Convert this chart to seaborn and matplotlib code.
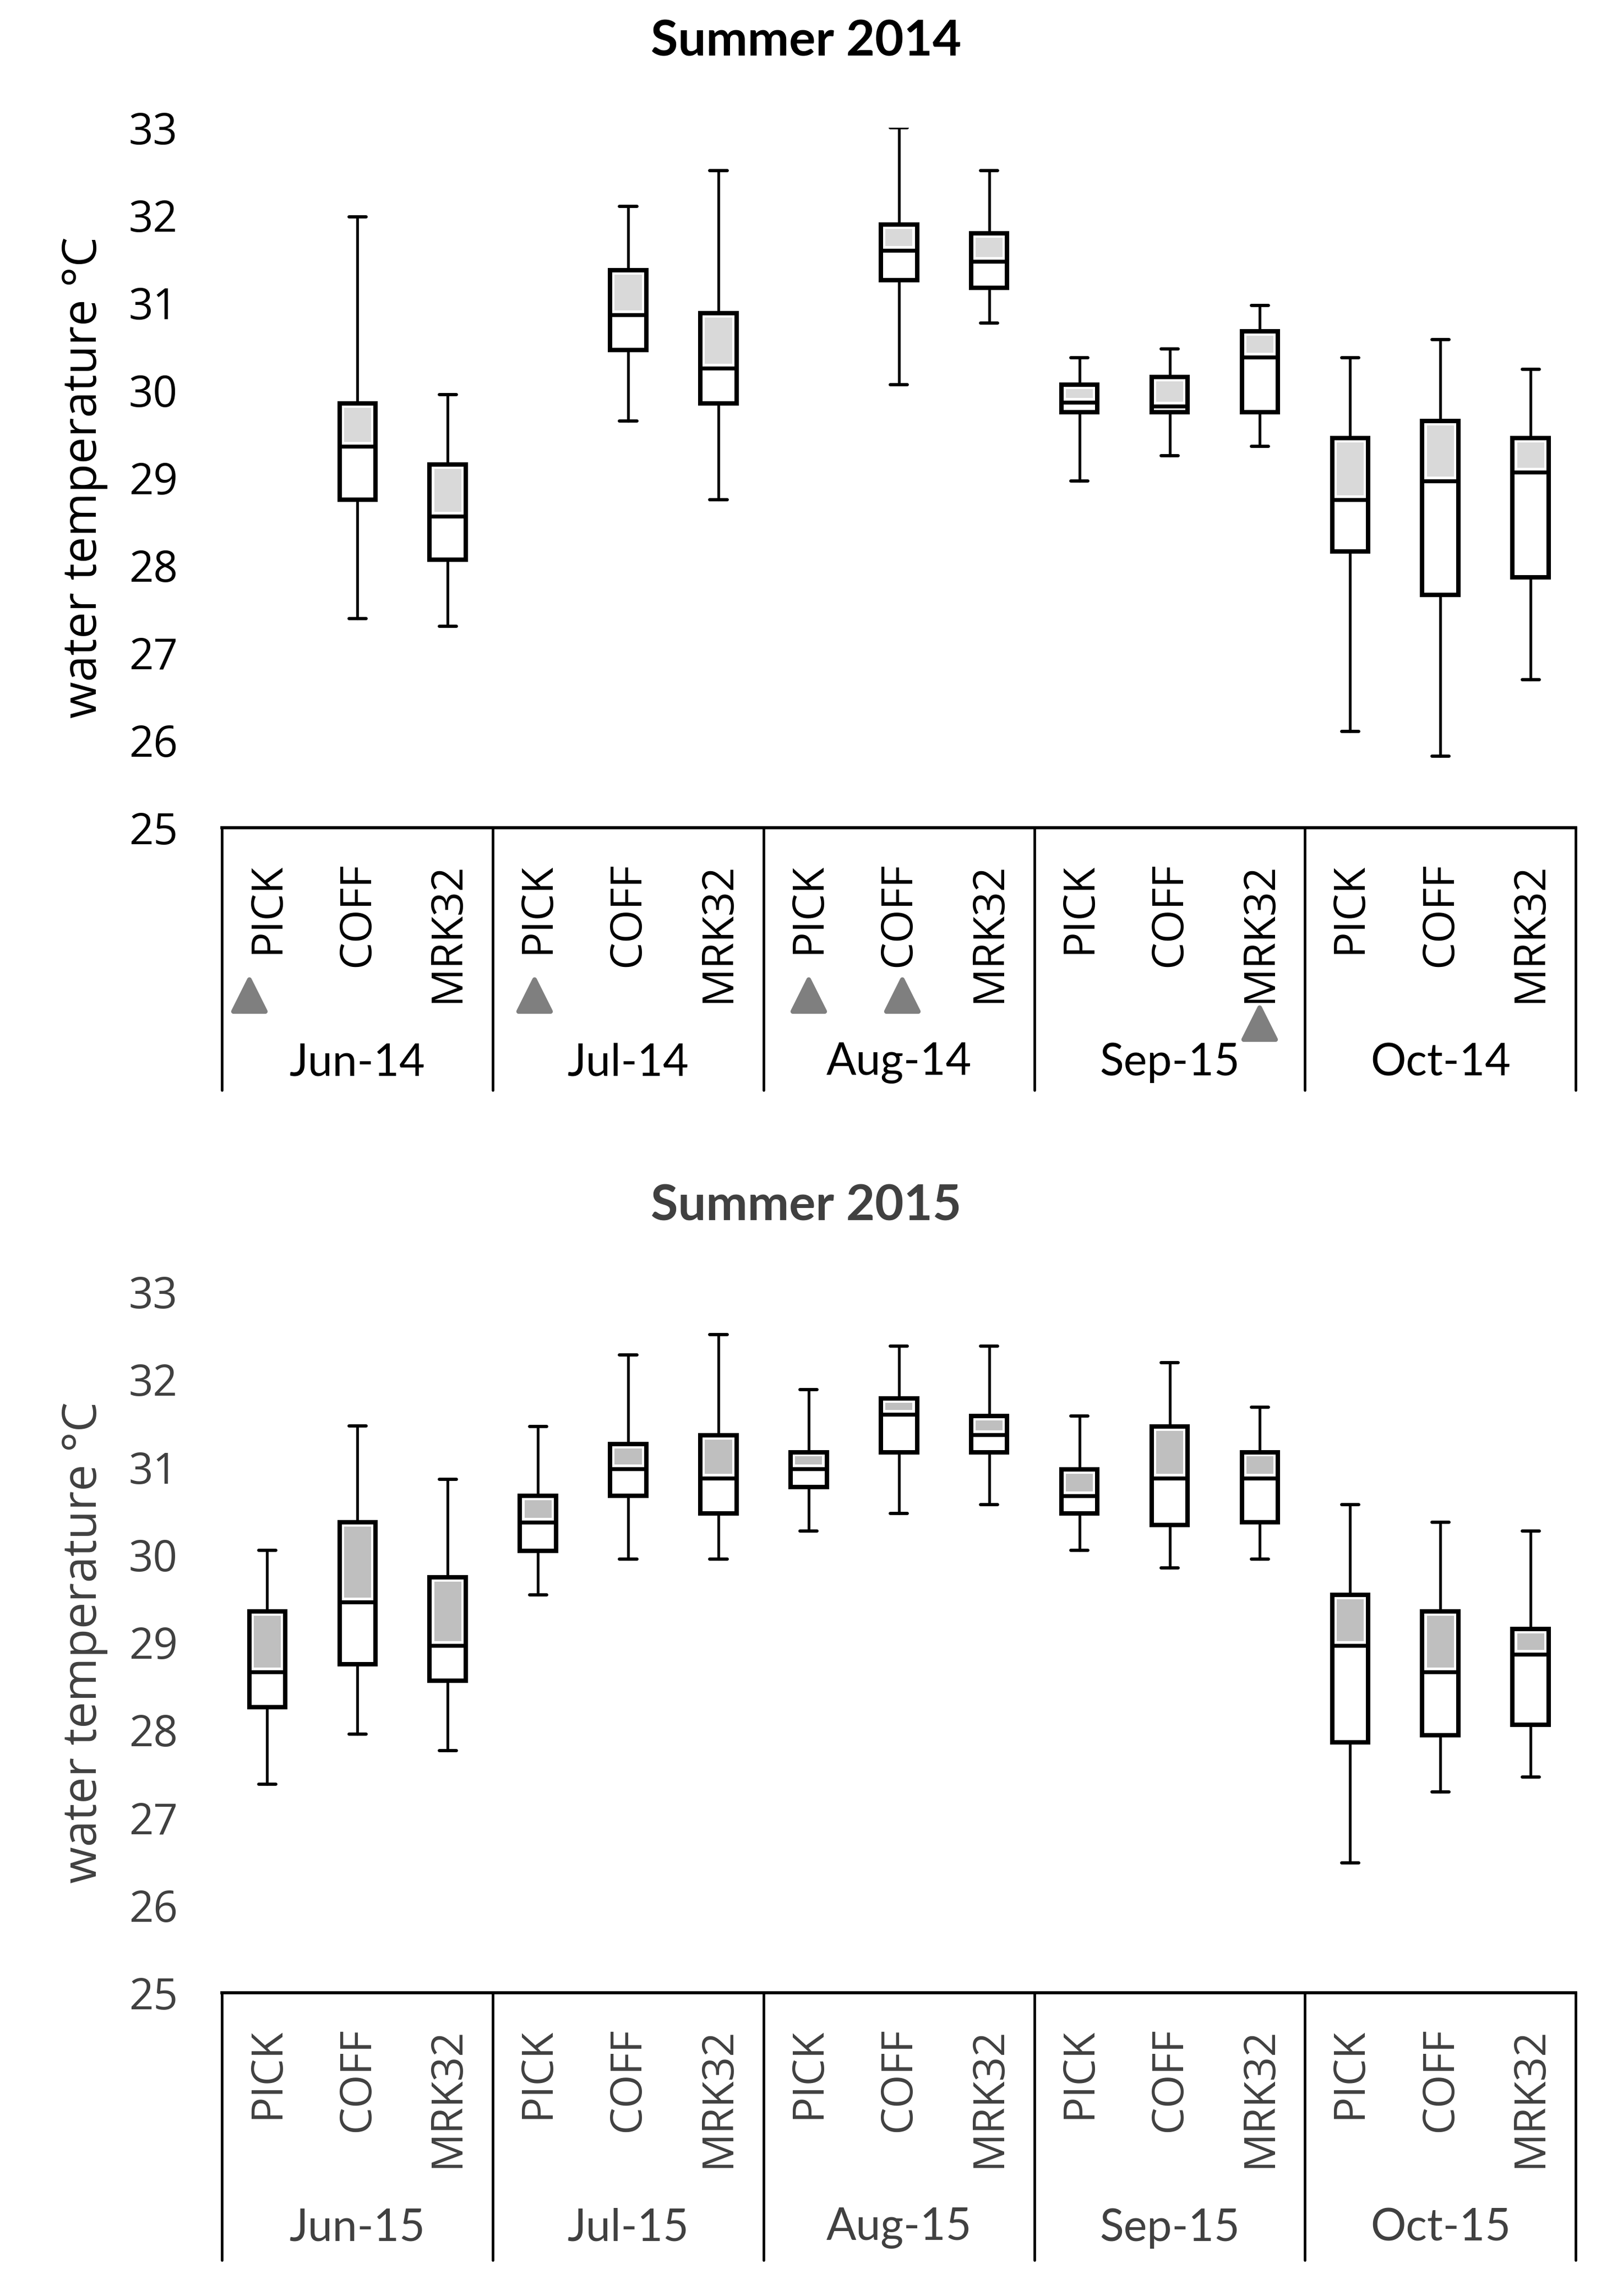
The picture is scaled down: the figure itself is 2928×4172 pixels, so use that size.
import numpy as np
import seaborn as sns
import matplotlib.pyplot as plt
from matplotlib.markers import MarkerStyle

nan = np.nan

sites = ['PICK', 'COFF', 'MRK32']
months_2014 = ['Jun-14', 'Jul-14', 'Aug-14', 'Sep-15', 'Oct-14']
months_2015 = ['Jun-15', 'Jul-15', 'Aug-15', 'Sep-15', 'Oct-15']

# box stats, month by month in site order PICK, COFF, MRK32 (nan = no box)
low_2014 = [nan, 27.39, 27.30, nan, 29.65, 28.75, nan, 30.06, 30.77, 28.96, 29.25, 29.36, 26.10, 25.82, 26.69]
q1_2014 = [nan, 28.75, 28.06, nan, 30.46, 29.85, nan, 31.26, 31.17, 29.75, 29.75, 29.75, 28.16, 27.66, 27.86]
med_2014 = [nan, 29.36, 28.56, nan, 30.86, 30.25, nan, 31.60, 31.47, 29.86, 29.82, 30.38, 28.75, 28.96, 29.06]
q3_2014 = [nan, 29.85, 29.15, nan, 31.37, 30.88, nan, 31.89, 31.79, 30.06, 30.15, 30.67, 29.45, 29.65, 29.45]
high_2014 = [nan, 31.98, 29.95, nan, 32.10, 32.51, nan, 33.00, 32.51, 30.37, 30.47, 30.97, 30.37, 30.58, 30.24]

low_2015 = [27.38, 27.95, 27.76, 29.54, 29.95, 29.95, 30.27, 30.47, 30.57, 30.05, 29.85, 29.95, 26.48, 27.29, 27.46]
q1_2015 = [28.26, 28.75, 28.56, 30.04, 30.67, 30.47, 30.77, 31.17, 31.17, 30.47, 30.34, 30.37, 27.86, 27.94, 28.06]
med_2015 = [28.66, 29.46, 28.96, 30.37, 30.98, 30.87, 30.98, 31.60, 31.37, 30.67, 30.87, 30.87, 28.96, 28.66, 28.86]
q3_2015 = [29.35, 30.37, 29.74, 30.67, 31.26, 31.36, 31.17, 31.78, 31.58, 30.97, 31.46, 31.17, 29.54, 29.35, 29.15]
high_2015 = [30.05, 31.47, 30.86, 31.46, 32.28, 32.51, 31.88, 32.38, 32.38, 31.58, 32.19, 31.68, 30.57, 30.37, 30.27]

# grey triangles under the category labels (2014 only)
flag_months = ['Jun-14', 'Jul-14', 'Aug-14', 'Aug-14', 'Sep-15']
flag_sites = ['PICK', 'PICK', 'PICK', 'COFF', 'MRK32']
flag_low_row = [False, False, False, False, True]
flag_nudge = [-0.2, -0.04, 0.0, 0.04, 0.0]

sns.set_theme(style='white')
plt.rcParams['font.family'] = ['Open Sans', 'DejaVu Sans']


def draw_panel(ax, low, q1, med, q3, high, months, fill, txt, drop):
    stats, pos = [], []
    for i in range(len(med)):
        if np.isnan(med[i]):
            continue
        stats.append(dict(whislo=low[i], q1=q1[i], med=med[i], q3=q3[i], whishi=high[i], fliers=[]))
        pos.append(i)
    ax.bxp(stats, positions=pos, widths=0.4, capwidths=0.19, patch_artist=True, showfliers=False,
           boxprops=dict(facecolor='white', edgecolor='black', linewidth=2.9),
           whiskerprops=dict(color='black', linewidth=1.8),
           capprops=dict(color='black', linewidth=2.1),
           medianprops=dict(color='black', linewidth=2.6, zorder=4))

    # shaded upper half of each box (median -> Q3), inset from the outline
    inset = 0.05
    bottoms = [med[i] + inset for i in pos]
    heights = [max(q3[i] - med[i] - 2 * inset, 0.02) for i in pos]
    ax.bar(pos, heights, bottom=bottoms, width=0.3, color=fill, linewidth=0, zorder=3)

    ax.set_xlim(-0.5, 14.5)
    ax.set_ylim(25, 33)
    ax.set_yticks(range(25, 34))
    ax.set_xticks([])
    ax.tick_params(axis='y', length=0, pad=29, labelsize=28, labelcolor=txt)
    sns.despine(ax=ax, left=True)
    ax.spines['bottom'].set_color('black')
    ax.spines['bottom'].set_linewidth(2.0)

    tr = ax.get_xaxis_transform()
    for b in np.arange(-0.5, 15, 3):
        ax.plot([b, b], [0, -drop], transform=tr, clip_on=False, color='black', lw=1.7)
    for g, m in enumerate(months):
        for k, s in enumerate(sites):
            ax.text(3 * g + k, -0.05, s, transform=tr, rotation=90, ha='center', va='top',
                    fontsize=28, color=txt)
        ax.text(3 * g + 1, -0.336, m, transform=tr, ha='center', va='center',
                fontsize=29, family=['Lato', 'DejaVu Sans'], color=txt)


fig = plt.figure(figsize=(14.64, 20.86), dpi=200)
ax1 = fig.add_axes([0.1378, 0.6395, 0.8397, 0.3049])
ax2 = fig.add_axes([0.1378, 0.1321, 0.8397, 0.3053])

draw_panel(ax1, low_2014, q1_2014, med_2014, q3_2014, high_2014, months_2014, '#d9d9d9', 'black', 0.375)
draw_panel(ax2, low_2015, q1_2015, med_2015, q3_2015, high_2015, months_2015, '#bfbfbf', '#404040', 0.382)

tri = MarkerStyle('^', joinstyle='round')
tr = ax1.get_xaxis_transform()
for m, s, low_row, dx in zip(flag_months, flag_sites, flag_low_row, flag_nudge):
    x = 3 * months_2014.index(m) + sites.index(s) + dx
    ax1.plot(x, -0.28 if low_row else -0.24, marker=tri, markersize=21, color='#7f7f7f',
             markeredgecolor='#7f7f7f', markeredgewidth=3, transform=tr, clip_on=False)

fig.text(0.5, 0.982, 'Summer 2014', ha='center', va='center', fontsize=32.5, fontweight='bold',
         family=['Lato', 'DejaVu Sans'], color='black')
fig.text(0.5, 0.4747, 'Summer 2015', ha='center', va='center', fontsize=32.5, fontweight='bold',
         family=['Lato', 'DejaVu Sans'], color='#404040')

fig.text(0.0523, 0.6395 + 0.3049 / 2, 'water temperature °C', rotation=90, ha='center', va='center',
         fontsize=31, color='black')
fig.text(0.0523, 0.1321 + 0.3053 / 2, 'water temperature °C', rotation=90, ha='center', va='center',
         fontsize=31, color='#404040')

fig.savefig('out.png', dpi=200)
